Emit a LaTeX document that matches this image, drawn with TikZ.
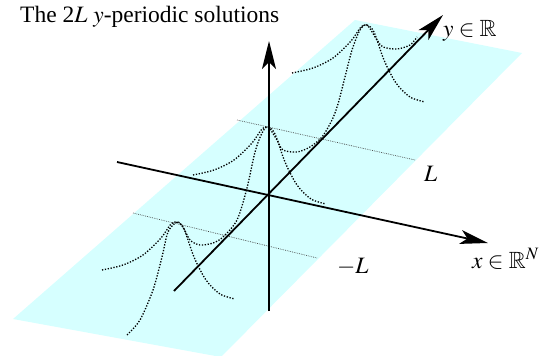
\documentclass[tikz,border=0pt]{standalone}
\usepackage{mathptmx}
\usepackage{amssymb}
\usepackage{fontspec}
\setmainfont{Liberation Serif}
\usetikzlibrary{arrows.meta}
\definecolor{planecyan}{RGB}{214,255,255}

\begin{document}
\begin{tikzpicture}[x=1pt, y=-1pt, font={\fontsize{23.5}{27}\selectfont}, >={Stealth[length=28pt, width=14pt, inset=7pt]},
  axis/.style={line width=1.8pt, ->},
  wave/.style={line width=1.3pt, dash pattern=on 1.3pt off 1.6pt},
  level/.style={line width=0.7pt, black!75, dash pattern=on 0.7pt off 1.1pt},
  lab/.style={inner sep=0pt, anchor=base west}]
  \useasboundingbox (0,0) rectangle (541,356);
  % plane y in R
  \fill[planecyan] (13,319) -- (355,20) -- (522,53) -- (221,357) -- cycle;
  \coordinate (O) at (269,196);
  \coordinate (zlo) at (269,311); \coordinate (ztip) at (269,41);
  \coordinate (xlo) at (117,162); \coordinate (xtip) at (488,243);
  \coordinate (ylo) at (174,291); \coordinate (ytip) at (443,15);
  % levels y = L and y = -L
  \coordinate (La) at (237,120); \coordinate (Lb) at (415,160);
  \coordinate (mLa) at (133,213); \coordinate (mLb) at (317,258);
  \draw[level] (La) -- (Lb);
  \draw[level] (mLa) -- (mLb);
  % profiles in x, one per period
  \foreach \px/\py in {177/222, 268/127, 367/25}
    \draw[wave, shift={(\px,\py)}] plot[smooth] coordinates {(-75,48) (-54,43) (-34,33) (-16,16) (-6,2) (0,0) (7,7) (17,35) (29,58) (43,72) (58,77)};
  % periodic profile in y
  \draw[wave] plot[smooth] coordinates {(127,335) (140,320) (153,290) (162,257) (168,232) (177,222) (183,227) (190,240) (200,245) (213,243) (223,237) (237,220) (247,188) (255,152) (262,133) (268,127) (277,140) (283,150) (297,152) (310,147) (322,137) (332,120) (338,104) (345,77) (352,50) (360,30) (367,25) (377,40) (383,47) (397,49) (410,45) (417,37)};
  % axes
  \draw[axis] (zlo) -- (ztip);
  \draw[axis] (xlo) -- (xtip);
  \draw[axis] (ylo) -- (ytip);
  \node[lab] (ttl) at (20,23) {The 2$L$ $y$-periodic solutions};
  \node[lab] (ylab) at (443,36) {$y\in\mathbb{R}$};
  \node[lab] (xlab) at (472,268) {$x\in\mathbb{R}^N$};
  \node[lab] (Llab) at (424,181) {$L$};
  \node[lab] (mLlab) at (337,273) {$-L$};
\end{tikzpicture}
\end{document}
